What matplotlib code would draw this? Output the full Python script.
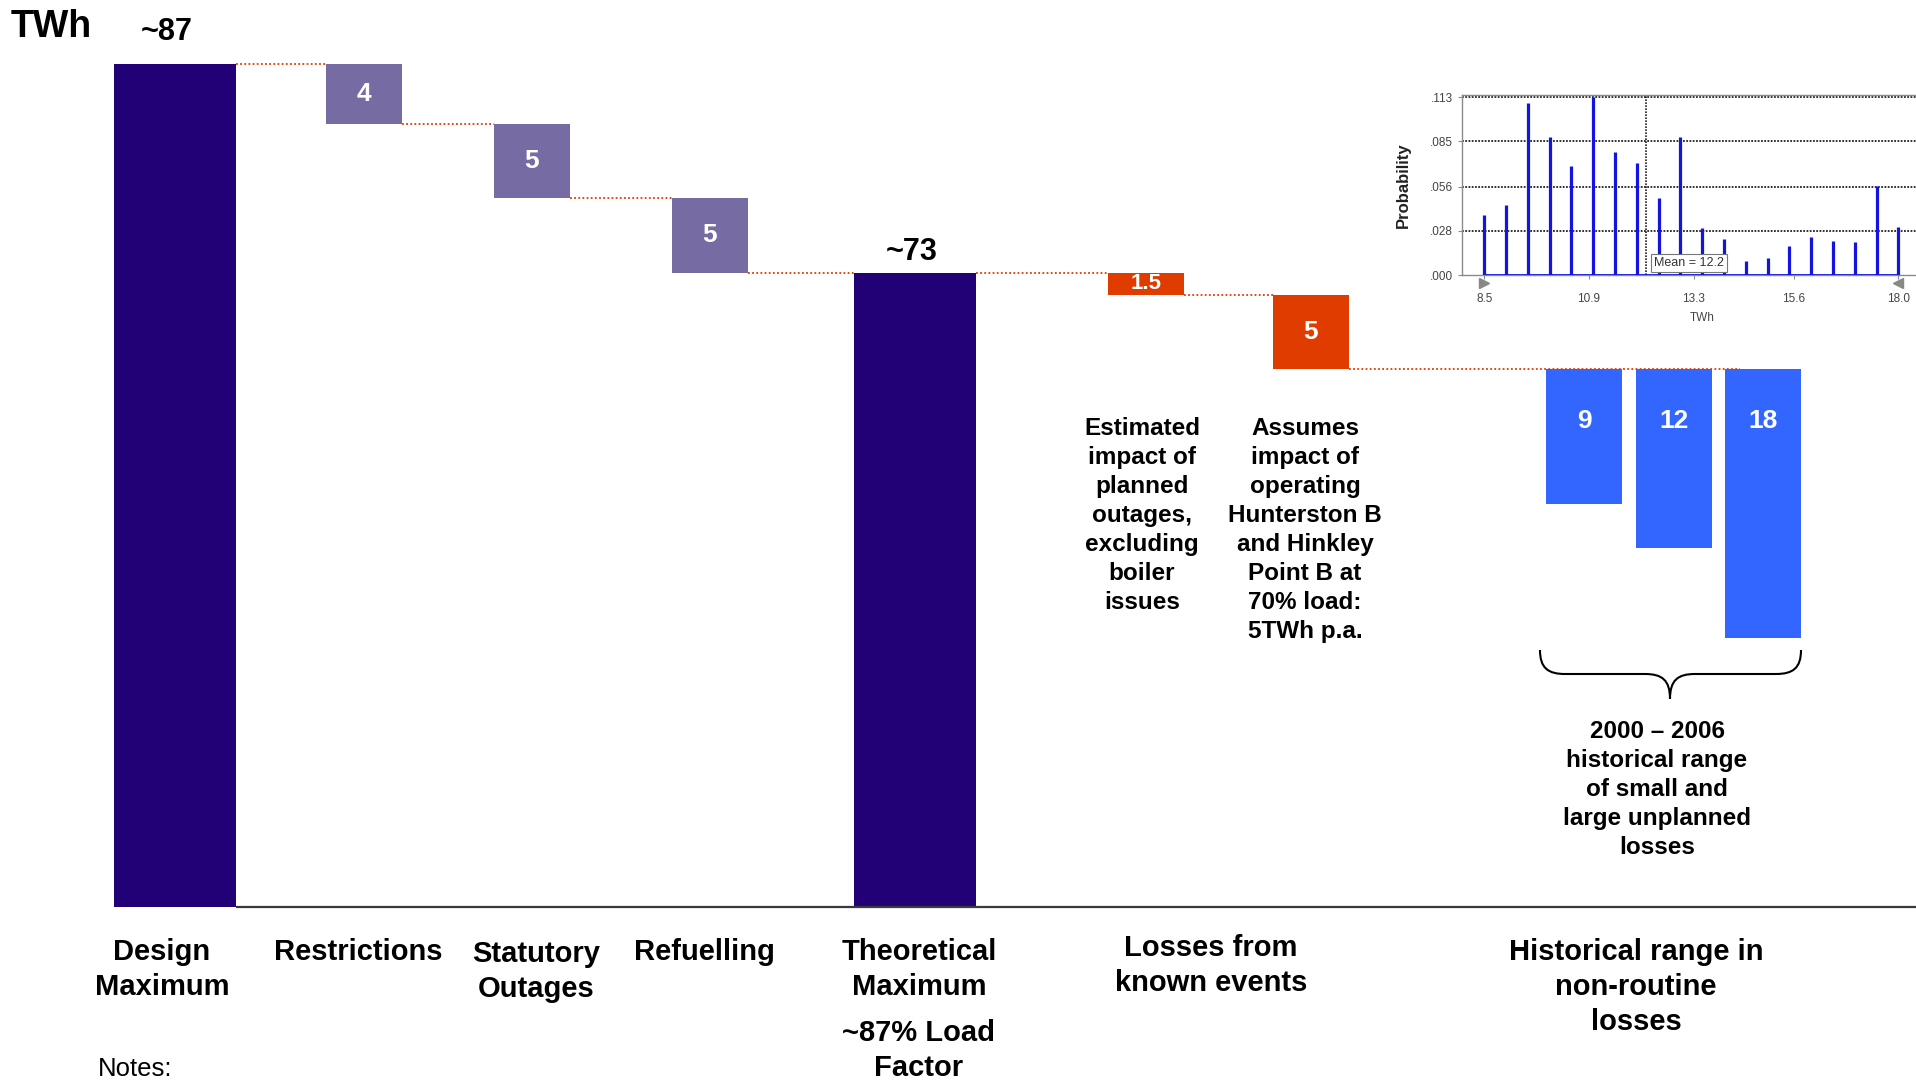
import matplotlib
matplotlib.use("Agg")
import matplotlib.pyplot as plt
from matplotlib.path import Path
from matplotlib.patches import PathPatch

plt.rcParams['font.family'] = ['Liberation Sans', 'DejaVu Sans']

# ---------------- data (TWh) ----------------
design_maximum = 87
theoretical_maximum = 73
total_value_labels = ["~87", "~73"]

step_categories = ["Restrictions", "Statutory\nOutages", "Refuelling"]
step_losses = [4, 5, 5]
step_value_labels = ["4", "5", "5"]

known_event_losses = [1.5, 5]
known_event_labels = ["1.5", "5"]

historical_losses = [9, 12, 18]
historical_labels = ["9", "12", "18"]

# distribution of annual unplanned losses (inset)
dist_twh = [8.5, 9.0, 9.5, 10.0, 10.5, 11.0, 11.5, 12.0, 12.5, 13.0,
            13.5, 14.0, 14.5, 15.0, 15.5, 16.0, 16.5, 17.0, 17.5, 18.0]
dist_prob = [0.038, 0.0445, 0.109, 0.088, 0.069, 0.113, 0.078, 0.071, 0.049, 0.088,
             0.030, 0.0227, 0.0089, 0.011, 0.0187, 0.0244, 0.0216, 0.0208, 0.0568, 0.0307]
dist_mean = 12.2
dist_yticks = [0.0, 0.028, 0.056, 0.085, 0.113]
dist_yticklabels = [".000", ".028", ".056", ".085", ".113"]
dist_xticks = [8.5, 10.9, 13.3, 15.6, 18.0]
dist_xticklabels = ["8.5", "10.9", "13.3", "15.6", "18.0"]

# ---------------- layout ----------------
W, H = 1916, 1083
NAVY = "#220076"
PURPLE = "#776BA3"
ORANGE = "#E03C00"
BLUE = "#3366FF"
CONNECTOR = "#E03C00"

total_x = [175, 915]
total_w = 122
step_x = [364, 532, 710]
event_x = [1146, 1311]
hist_x = [1584, 1674, 1763]
small_w = 76

PX_PER_TWH = 14.9
TOP_PX = 64        # pixel row of the design-maximum bar top
BASE_PX = 907      # pixel row of the category axis

y_top = design_maximum + TOP_PX / PX_PER_TWH
y_bottom = design_maximum - (H - TOP_PX) / PX_PER_TWH
axis_floor = design_maximum - (BASE_PX - TOP_PX) / PX_PER_TWH

fig = plt.figure(figsize=(W / 100, H / 100), dpi=100)
fig.patch.set_facecolor("white")
ax = fig.add_axes([0, 0, 1, 1])
ax.set_xlim(0, W)
ax.set_ylim(y_bottom, y_top)
ax.axis("off")


def fx(x):
    return x / W


def fy(y):
    return 1 - y / H


def block_text(x, baseline_px, s, size, **kw):
    """Place (possibly multi-line) text by the pixel row of its first baseline."""
    top_px = baseline_px - 0.725 * size * 100 / 72
    fig.text(fx(x), fy(top_px), s, va="top", fontsize=size, **kw)


# ---- totals ----
for x, val in zip(total_x, [design_maximum, theoretical_maximum]):
    ax.bar(x, val - axis_floor, bottom=axis_floor, width=total_w, color=NAVY, zorder=2)

ax.annotate(total_value_labels[0], (total_x[0], design_maximum), xytext=(-8, 24),
            textcoords="offset pixels", ha="center", va="baseline",
            fontsize=22, fontweight="bold")
ax.annotate(total_value_labels[1], (total_x[1], theoretical_maximum), xytext=(-3, 13),
            textcoords="offset pixels", ha="center", va="baseline",
            fontsize=22, fontweight="bold")

# ---- step-down losses ----
level = design_maximum
prev_right = total_x[0] + total_w / 2
for x, loss, lab in zip(step_x, step_losses, step_value_labels):
    ax.hlines(level, prev_right, x - small_w / 2, color=CONNECTOR, lw=1.3,
              linestyles=(0, (1, 1.3)), zorder=3)
    ax.bar(x, loss, bottom=level - loss, width=small_w, color=PURPLE, zorder=2)
    ax.text(x, level - loss / 2, lab, ha="center", va="center", color="white",
            fontsize=19, fontweight="bold", zorder=4)
    level -= loss
    prev_right = x + small_w / 2

ax.hlines(level, prev_right, total_x[1] - total_w / 2, color=CONNECTOR, lw=1.3,
          linestyles=(0, (1, 1.3)), zorder=3)
prev_right = total_x[1] + total_w / 2

# ---- losses from known events ----
level = theoretical_maximum
for x, loss, lab in zip(event_x, known_event_losses, known_event_labels):
    ax.hlines(level, prev_right, x - small_w / 2, color=CONNECTOR, lw=1.3,
              linestyles=(0, (1, 1.3)), zorder=3)
    ax.bar(x, loss, bottom=level - loss, width=small_w, color=ORANGE, zorder=2)
    ax.text(x, level - loss / 2, lab, ha="center", va="center", color="white",
            fontsize=16 if loss < 2 else 19, fontweight="bold", zorder=4)
    level -= loss
    prev_right = x + small_w / 2

# ---- historical range ----
ax.hlines(level, prev_right, hist_x[-1] - small_w / 2 + 15, color=CONNECTOR, lw=1.3,
          linestyles=(0, (1, 1.3)), zorder=3)
for x, loss, lab in zip(hist_x, historical_losses, historical_labels):
    ax.bar(x, loss, bottom=level - loss, width=small_w, color=BLUE, zorder=2)
    ax.annotate(lab, (x, level), xytext=(0, -52), textcoords="offset pixels",
                ha="center", va="center", color="white", fontsize=19,
                fontweight="bold", zorder=4)

# category axis
ax.hlines(axis_floor, total_x[0] + total_w / 2, W, color="#3a3a3a", lw=1.6, zorder=3)

# ---- text ----
fig.text(fx(11), fy(37), "TWh", ha="left", va="baseline", fontsize=27, fontweight="bold")

cat_kw = dict(ha="center", fontweight="bold", linespacing=1.33)
block_text(162, 959, "Design\nMaximum", 21, **cat_kw)
block_text(358, 959, step_categories[0], 21, **cat_kw)
block_text(536, 961, step_categories[1], 21, **cat_kw)
block_text(704, 959, step_categories[2], 21, **cat_kw)
block_text(919, 959, "Theoretical\nMaximum", 21, **cat_kw)
block_text(919, 1040, "~87% Load\nFactor", 21, **cat_kw)
block_text(1211, 955, "Losses from\nknown events", 21, **cat_kw)
block_text(1636, 959, "Historical range in\nnon-routine\nlosses", 21, **cat_kw)
fig.text(fx(98), fy(1076), "Notes:", ha="left", va="baseline", fontsize=18.5)

note_kw = dict(ha="center", fontweight="bold", linespacing=1.33)
block_text(1142, 435,
           "Estimated\nimpact of\nplanned\noutages,\nexcluding\nboiler\nissues", 17.5, **note_kw)
block_text(1305, 435,
           "Assumes\nimpact of\noperating\nHunterston B\nand Hinkley\nPoint B at\n70% load:\n5TWh p.a.",
           17.5, **note_kw)
block_text(1657, 738,
           "2000 \u2013 2006\nhistorical range\nof small and\nlarge unplanned\nlosses", 17.5, **note_kw)

# curly brace under the historical bars
bl, br, btop, bmid, btip, bx = 1540, 1801, 650, 674, 699, 1670
verts = [(bl, btop), (bl, btop + 18), (bl + 8, bmid), (bl + 25, bmid),
         (bx - 25, bmid),
         (bx - 8, bmid), (bx, bmid + 6), (bx, btip),
         (bx, bmid + 6), (bx + 8, bmid), (bx + 25, bmid),
         (br - 25, bmid),
         (br - 8, bmid), (br, btop + 18), (br, btop)]
codes = [Path.MOVETO, Path.CURVE4, Path.CURVE4, Path.CURVE4,
         Path.LINETO,
         Path.CURVE4, Path.CURVE4, Path.CURVE4,
         Path.CURVE4, Path.CURVE4, Path.CURVE4,
         Path.LINETO,
         Path.CURVE4, Path.CURVE4, Path.CURVE4]
brace = PathPatch(Path([(fx(x), fy(y)) for x, y in verts], codes),
                  transform=fig.transFigure, fill=False, lw=1.5, edgecolor="black")
fig.add_artist(brace)

# ---------------- inset: probability distribution ----------------
PX_PER_UNIT = 43.6
ins_left, ins_top, ins_bottom, ins_width = 1462, 95, 275, 480
ins = fig.add_axes([fx(ins_left), fy(ins_bottom), ins_width / W, (ins_bottom - ins_top) / H])
x0 = 7.99
ins.set_xlim(x0, x0 + ins_width / PX_PER_UNIT)
ins.set_ylim(0, 0.1144)
for sp in ins.spines.values():
    sp.set_color("#8a8a8a")
    sp.set_linewidth(1.0)

for yt in dist_yticks[1:]:
    ins.axhline(yt, color="#222222", lw=1.3, linestyle=(0, (1, 0.8)), zorder=1)
ins.axvline(dist_mean, color="#222222", lw=1.2, linestyle=(0, (1, 0.8)), zorder=1)

ins.vlines(dist_twh, 0, dist_prob, color="#1414E0", lw=2.3, zorder=3)
ins.hlines(0, dist_twh[0], dist_twh[-1], color="#1414E0", lw=2.0, zorder=3)

ins.text(dist_mean + 0.2, 0.0078, "Mean = 12.2", fontsize=9, color="#333333",
         ha="left", va="center", zorder=5,
         bbox=dict(boxstyle="square,pad=0.25", fc="white", ec="#777777", lw=0.8))

ins.plot([dist_twh[0]], [-0.005], marker=">", color="#888888", markersize=7, clip_on=False)
ins.plot([dist_twh[-1]], [-0.005], marker="<", color="#888888", markersize=7, clip_on=False)

ins.set_yticks(dist_yticks)
ins.set_yticklabels(dist_yticklabels)
ins.set_xticks(dist_xticks)
ins.set_xticklabels(dist_xticklabels)
ins.tick_params(axis="both", colors="#8a8a8a", labelcolor="#444444", labelsize=8.5,
                length=3, width=0.8)
ins.tick_params(axis="x", pad=10)
ins.set_xlabel("TWh", fontsize=8.5, color="#444444", labelpad=5)
ins.set_ylabel("Probability", fontsize=12, fontweight="bold", color="#222222", labelpad=14)

fig.savefig("out.png", dpi=100)
